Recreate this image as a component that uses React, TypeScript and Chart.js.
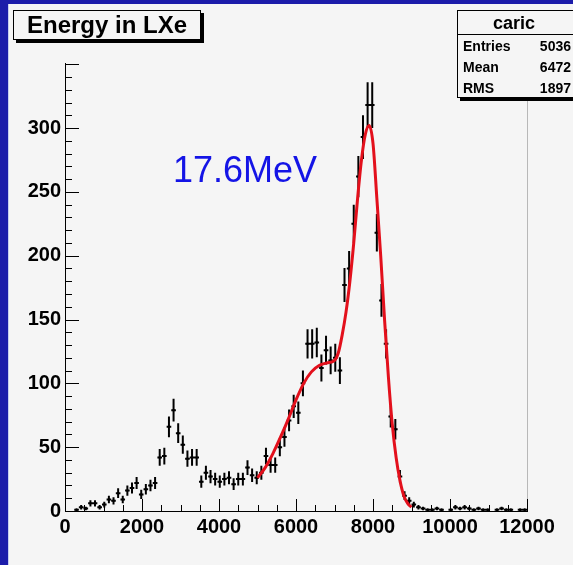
import React, { useEffect, useRef } from 'react';
import { Chart, registerables } from 'chart.js';

Chart.register(...registerables);

// Histogram "caric": 100 bins from 0 to 12000
const binLow = 0;
const binWidth = 120;
const counts = [
  0, 0, 1, 3, 2, 6, 6, 3, 5, 9,
  8, 14, 9, 16, 18, 22, 13, 17, 20, 22,
  42, 43, 66, 79, 61, 52, 41, 42, 42, 23,
  30, 27, 25, 23, 25, 26, 21, 25, 25, 34,
  28, 26, 30, 43, 36, 36, 50, 58, 71, 82,
  77, 100, 131, 131, 132, 112, 126, 118, 120, 110,
  177, 190, 225, 262, 293, 318, 318, 218, 165, 131,
  74, 64, 27, 12, 8, 5, 3, 2, 1, 1,
  2, 1, 0, 1, 3, 2, 3, 2, 1, 2,
  1, 1, 0, 1, 2, 1, 1, 0, 1, 1,
];
const binCenters = counts.map((_, i) => binLow + binWidth * (i + 0.5));

// Fit curve
const fitX = [5000, 5200, 5400, 5600, 5800, 6000, 6200, 6400, 6600, 6800, 7000, 7100, 7200, 7300, 7400, 7500, 7600, 7700, 7800, 7900, 8000, 8100, 8200, 8300, 8400, 8500, 8600, 8700, 8800, 8900, 9000];
const fitY = [26, 34, 45, 58, 72, 87, 100, 109, 114, 116, 118, 124, 138, 156, 180, 210, 245, 275, 295, 302, 288, 245, 200, 150, 105, 68, 42, 24, 12, 6, 3];

const xTickValues = [0, 2000, 4000, 6000, 8000, 10000, 12000];
const yTickValues = [0, 50, 100, 150, 200, 250, 300];

const histTitle = 'Energy in LXe';
const statsName = 'caric';
const statsRows: [string, string][] = [
  ['Entries', '5036'],
  ['Mean', '6472'],
  ['RMS', '1897'],
];
const annotation = '17.6MeV';

const FONT = "'Liberation Sans', Arial, Helvetica, sans-serif";
const BG = '#f5f5f5';

const rootPlugin = {
  id: 'rootDecor',
  beforeDraw(chart: any) {
    const ctx = chart.ctx;
    ctx.save();
    ctx.fillStyle = BG;
    ctx.fillRect(0, 0, chart.width, chart.height);
    ctx.fillStyle = '#1c1caa';
    ctx.fillRect(0, 0, chart.width, 4);
    ctx.fillRect(0, 0, 8, chart.height);
    ctx.fillStyle = '#c8cdf0';
    ctx.fillRect(8, 4, 1, chart.height - 4);
    ctx.restore();
  },
  beforeDatasetsDraw(chart: any) {
    const ctx = chart.ctx;
    const xs = chart.scales.x;
    const ys = chart.scales.y;
    const area = chart.chartArea;
    ctx.save();
    // frame right edge
    ctx.strokeStyle = '#b8b8b8';
    ctx.lineWidth = 1;
    ctx.beginPath();
    ctx.moveTo(Math.round(area.right) + 0.5, area.top);
    ctx.lineTo(Math.round(area.right) + 0.5, area.bottom);
    ctx.stroke();
    // ticks
    ctx.strokeStyle = '#000';
    ctx.beginPath();
    for (let v = 0; v <= 350; v += 10) {
      const py = Math.round(ys.getPixelForValue(v)) + 0.5;
      const len = v % 50 === 0 ? 14 : 7;
      ctx.moveTo(area.left, py);
      ctx.lineTo(area.left + len, py);
    }
    for (let v = 0; v <= 12000; v += 500) {
      const px = Math.round(xs.getPixelForValue(v)) + 0.5;
      const len = v % 2000 === 0 ? 12 : 6;
      ctx.moveTo(px, area.bottom);
      ctx.lineTo(px, area.bottom - len);
    }
    ctx.stroke();
    // error bars
    ctx.strokeStyle = '#000';
    ctx.lineWidth = 2;
    ctx.beginPath();
    counts.forEach((c, i) => {
      if (c <= 0) return;
      const err = Math.sqrt(c);
      const x = binCenters[i];
      const px = xs.getPixelForValue(x);
      const py = ys.getPixelForValue(c);
      const yl = ys.getPixelForValue(Math.max(0, c - err));
      const yh = ys.getPixelForValue(c + err);
      ctx.moveTo(px, yl);
      ctx.lineTo(px, yh);
      ctx.moveTo(xs.getPixelForValue(x - binWidth / 2), py);
      ctx.lineTo(xs.getPixelForValue(x + binWidth / 2), py);
    });
    ctx.stroke();
    ctx.restore();
  },
  afterDraw(chart: any) {
    const ctx = chart.ctx;
    ctx.save();
    // Title box
    const tx = 13, ty = 10, tw = 188, th = 30;
    ctx.fillStyle = '#000';
    ctx.fillRect(tx + 3, ty + 3, tw, th);
    ctx.fillStyle = BG;
    ctx.fillRect(tx, ty, tw, th);
    ctx.strokeStyle = '#000';
    ctx.lineWidth = 1;
    ctx.strokeRect(tx + 0.5, ty + 0.5, tw - 1, th - 1);
    ctx.fillStyle = '#000';
    ctx.font = `bold 24px ${FONT}`;
    ctx.textAlign = 'center';
    ctx.textBaseline = 'alphabetic';
    ctx.fillText(histTitle, tx + tw / 2, ty + 23);

    // Stats box
    const sx = 457, sy = 10, sw = 130, sh = 88;
    ctx.fillStyle = '#000';
    ctx.fillRect(sx + 3, sy + 3, sw, sh);
    ctx.fillStyle = BG;
    ctx.fillRect(sx, sy, sw, sh);
    ctx.strokeRect(sx + 0.5, sy + 0.5, sw - 1, sh - 1);
    ctx.beginPath();
    ctx.moveTo(sx, sy + 24.5);
    ctx.lineTo(sx + sw, sy + 24.5);
    ctx.stroke();
    ctx.fillStyle = '#000';
    ctx.font = `bold 18px ${FONT}`;
    ctx.textAlign = 'center';
    ctx.fillText(statsName, 514, sy + 19);
    ctx.font = `bold 14px ${FONT}`;
    statsRows.forEach(([k, v], i) => {
      const by = sy + 41 + i * 21;
      ctx.textAlign = 'left';
      ctx.fillText(k, sx + 6, by);
      ctx.textAlign = 'right';
      ctx.fillText(v, 571, by);
    });

    // Annotation
    ctx.fillStyle = '#1414e6';
    ctx.font = `36px ${FONT}`;
    ctx.textAlign = 'left';
    ctx.fillText(annotation, 173, 182);
    ctx.restore();
  },
};

export default function App() {
  const ref = useRef<HTMLCanvasElement | null>(null);
  useEffect(() => {
    if (!ref.current) return;
    const chart = new Chart(ref.current, {
      type: 'scatter',
      data: {
        datasets: [
          {
            type: 'line',
            label: 'fit',
            data: fitX.map((x, i) => ({ x, y: fitY[i] })),
            borderColor: '#e3101c',
            borderWidth: 3,
            pointRadius: 0,
            cubicInterpolationMode: 'monotone',
            fill: false,
            order: 0,
          } as any,
          {
            label: statsName,
            data: binCenters.map((x, i) => ({ x, y: counts[i] })).filter((p) => p.y > 0),
            pointRadius: 1.2,
            pointBackgroundColor: '#000',
            pointBorderColor: '#000',
            borderWidth: 0,
            showLine: false,
            order: 1,
          },
        ],
      },
      options: {
        responsive: false,
        animation: false,
        devicePixelRatio: 1,
        layout: { padding: { left: 0, top: 63, right: 46, bottom: 0 } },
        plugins: {
          legend: { display: false },
          tooltip: { enabled: false },
          title: { display: false },
        },
        scales: {
          x: {
            type: 'linear',
            min: 0,
            max: 12000,
            grid: { display: false, drawTicks: false },
            border: { display: true, color: '#000', width: 1 },
            afterBuildTicks: (s: any) => {
              s.ticks = xTickValues.map((v) => ({ value: v }));
            },
            ticks: {
              color: '#000',
              padding: 4,
              maxRotation: 0,
              autoSkip: false,
              font: { family: FONT, size: 20, weight: 'bold' },
              callback: (v: any) => String(v),
            },
            afterFit: (s: any) => {
              s.height = 54;
            },
          },
          y: {
            type: 'linear',
            min: 0,
            max: 351,
            grid: { display: false, drawTicks: false },
            border: { display: true, color: '#000', width: 1 },
            afterBuildTicks: (s: any) => {
              s.ticks = yTickValues.map((v) => ({ value: v }));
            },
            ticks: {
              color: '#000',
              padding: 4,
              autoSkip: false,
              font: { family: FONT, size: 20, weight: 'bold' },
              callback: (v: any) => String(v),
            },
            afterFit: (s: any) => {
              s.width = 65;
            },
          },
        },
      } as any,
      plugins: [rootPlugin],
    });
    return () => chart.destroy();
  }, []);
  return (
    <div style={{ position: 'fixed', left: 0, top: 0, width: 573, height: 565 }}>
      <canvas ref={ref} width={573} height={565} style={{ display: 'block' }} />
    </div>
  );
}
